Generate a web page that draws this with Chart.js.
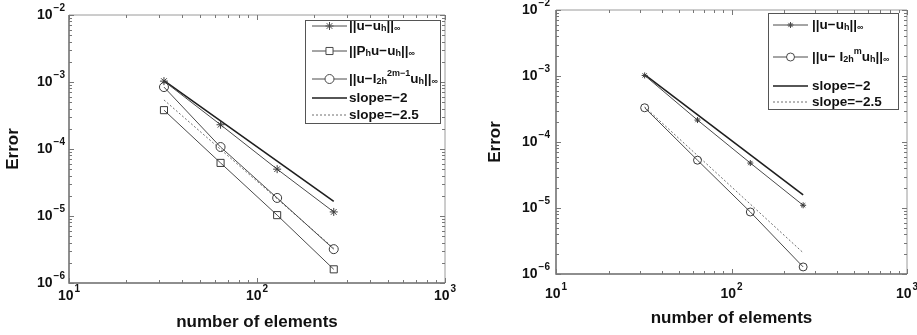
<!DOCTYPE html>
<html>
<head>
<meta charset="utf-8">
<script src="https://cdn.jsdelivr.net/npm/chart.js@4.4.1/dist/chart.umd.min.js"></script>
<style>
  body { margin: 0; background: #fff; width: 917px; height: 335px; overflow: hidden; position: relative; }
  canvas { position: absolute; top: 0; }
  #left { left: 0; }
  #right { left: 458px; }
</style>
</head>
<body>
<canvas id="left" width="458" height="335"></canvas>
<canvas id="right" width="459" height="335"></canvas>
<script>
// number of elements (x) for every series
const elements = [32, 64, 128, 256];
const slopeX = [32, 256];

// left panel
const errU = [1.03e-3, 2.3e-4, 5.0e-5, 1.15e-5];
const errPh = [3.8e-4, 6.2e-5, 1.03e-5, 1.6e-6];
const errI = [8.4e-4, 1.07e-4, 1.86e-5, 3.2e-6];
const slope2L = [1.05e-3, 1.65e-5];
const slope25L = [5.4e-4, 3.3e-6];

// right panel
const errUR = [1.02e-3, 2.15e-4, 4.8e-5, 1.1e-5];
const errIR = [3.3e-4, 5.3e-5, 8.7e-6, 1.28e-6];
const slope2R = [1.05e-3, 1.58e-5];
const slope25R = [3.4e-4, 2.1e-6];

// axis decades (tick labels are 10^e)
const xDecades = [1, 2, 3];
const yDecades = [-6, -5, -4, -3, -2];

const FONT = '"Liberation Sans", Arial, sans-serif';

function decadeTicks(decades) {
  const out = [];
  for (let i = 0; i < decades.length - 1; i++) {
    for (let k = 1; k <= 9; k++) out.push({ value: k * Math.pow(10, decades[i]), major: k === 1, exp: decades[i] });
  }
  const last = decades[decades.length - 1];
  out.push({ value: Math.pow(10, last), major: true, exp: last });
  return out;
}

function series(xs, ys) {
  return xs.map((x, i) => ({ x: x, y: ys[i] }));
}

// draws "10" with a raised exponent
function powLabel(ctx, e, x, y, align) {
  const ex = String(e).replace('-', '\u2212');
  ctx.font = 'bold 14px ' + FONT;
  const wb = ctx.measureText('10').width;
  ctx.font = 'bold 10px ' + FONT;
  const we = ctx.measureText(ex).width;
  const w = wb + we + 1;
  const x0 = align === 'right' ? x - w : x - w / 2;
  ctx.textAlign = 'left';
  ctx.textBaseline = 'middle';
  ctx.fillStyle = '#111';
  ctx.font = 'bold 14px ' + FONT;
  ctx.fillText('10', x0, y);
  ctx.font = 'bold 10px ' + FONT;
  ctx.fillText(ex, x0 + wb + 1, y - 7);
}

// MATLAB style box with inward ticks
const frame = {
  id: 'frame',
  afterDatasetsDraw(chart, args, opts) {
    const ctx = chart.ctx;
    const a = chart.chartArea;
    const xs = chart.scales.x, ys = chart.scales.y;
    ctx.save();
    ctx.strokeStyle = '#9a9a9a';
    ctx.lineWidth = 1;
    ctx.beginPath();
    ctx.moveTo(a.left, a.top); ctx.lineTo(a.right, a.top); ctx.lineTo(a.right, a.bottom);
    ctx.stroke();
    ctx.strokeStyle = '#6a6a6a';
    ctx.lineWidth = 1.5;
    ctx.beginPath();
    ctx.moveTo(a.left, a.top); ctx.lineTo(a.left, a.bottom); ctx.lineTo(a.right, a.bottom);
    ctx.stroke();

    ctx.strokeStyle = '#777';
    ctx.lineWidth = 1;
    ctx.beginPath();
    xs.ticks.forEach(t => {
      const px = Math.round(xs.getPixelForValue(t.value)) + 0.5;
      const len = t.major ? 5 : 3;
      ctx.moveTo(px, a.bottom); ctx.lineTo(px, a.bottom - len);
      ctx.moveTo(px, a.top); ctx.lineTo(px, a.top + len);
    });
    ys.ticks.forEach(t => {
      const py = Math.round(ys.getPixelForValue(t.value)) + 0.5;
      const len = t.major ? 5 : 3;
      ctx.moveTo(a.left, py); ctx.lineTo(a.left + len, py);
      ctx.moveTo(a.right, py); ctx.lineTo(a.right - len, py);
    });
    ctx.stroke();

    xs.ticks.filter(t => t.major).forEach(t => {
      powLabel(ctx, t.exp, xs.getPixelForValue(t.value), a.bottom + opts.xGap, 'center');
    });
    ys.ticks.filter(t => t.major).forEach(t => {
      powLabel(ctx, t.exp, a.left - opts.yGap, ys.getPixelForValue(t.value), 'right');
    });
    ctx.restore();
  }
};

function drawRuns(ctx, runs, x, y) {
  ctx.textAlign = 'left';
  ctx.textBaseline = 'middle';
  ctx.fillStyle = '#111';
  runs.forEach(r => {
    const small = r[1] === 'sub' || r[1] === 'sup';
    ctx.font = 'bold ' + (small ? 9 : 13.5) + 'px ' + FONT;
    const dy = r[1] === 'sub' ? 3 : r[1] === 'sup' ? -5 : 0;
    ctx.fillText(r[0], x, y + dy);
    x += ctx.measureText(r[0]).width;
  });
}

// legend drawn inside the plot, with sub/superscripts
const mlegend = {
  id: 'mlegend',
  afterDraw(chart, args, opts) {
    const ctx = chart.ctx;
    const a = chart.chartArea;
    const bx = a.right - opts.dx, by = a.top + opts.dy;
    ctx.save();
    ctx.fillStyle = '#fff';
    ctx.fillRect(bx, by, opts.w, opts.h);
    ctx.strokeStyle = '#555';
    ctx.lineWidth = 1;
    ctx.strokeRect(bx + 0.5, by + 0.5, opts.w, opts.h);
    opts.rows.forEach(row => {
      const d = chart.data.datasets[row.ds];
      const y = by + row.y;
      ctx.save();
      ctx.strokeStyle = d.borderColor;
      ctx.lineWidth = d.borderWidth;
      ctx.setLineDash(d.borderDash || []);
      ctx.beginPath();
      ctx.moveTo(bx + opts.l0, y); ctx.lineTo(bx + opts.l1, y);
      ctx.stroke();
      ctx.restore();
      if (d.pointRadius > 0) {
        ctx.save();
        ctx.strokeStyle = d.borderColor;
        ctx.fillStyle = '#fff';
        ctx.lineWidth = 1;
        Chart.helpers.drawPoint(ctx, { pointStyle: d.pointStyle, radius: d.pointRadius, rotation: 0, borderWidth: 1 }, (bx + opts.l0 + bx + opts.l1) / 2, y);
        ctx.restore();
      }
      drawRuns(ctx, row.runs, bx + opts.tx, y);
    });
    ctx.restore();
  }
};

function markerSet(label, ys, style, r) {
  return {
    label: label, data: series(elements, ys),
    borderColor: '#4a4a4a', borderWidth: 1, tension: 0, fill: false,
    pointStyle: style, pointRadius: r, pointBorderWidth: 1,
    pointBorderColor: '#3a3a3a', pointBackgroundColor: 'rgba(255,255,255,0)'
  };
}
function slopeSet(label, ys, dotted) {
  return {
    label: label, data: series(slopeX, ys), tension: 0, fill: false, pointRadius: 0,
    borderColor: dotted ? '#6e6e6e' : '#1e1e1e', borderWidth: dotted ? 1 : 1.6,
    borderDash: dotted ? [2, 2] : []
  };
}

function makeChart(id, datasets, cfg) {
  return new Chart(document.getElementById(id), {
    type: 'line',
    data: { datasets: datasets },
    options: {
      responsive: false,
      animation: false,
      layout: { padding: cfg.pad },
      plugins: {
        legend: { display: false },
        tooltip: { enabled: false },
        frame: { xGap: cfg.xGap, yGap: cfg.yGap },
        mlegend: cfg.legend
      },
      scales: {
        x: {
          type: 'logarithmic', min: 10, max: 1000,
          grid: { display: false, drawTicks: false, tickLength: 0 },
          border: { display: false },
          ticks: { display: false },
          afterBuildTicks: s => { s.ticks = decadeTicks(xDecades); },
          afterFit: s => { s.height = cfg.xh; },
          title: { display: true, text: 'number of elements', color: '#111',
                   font: { family: FONT, size: 17, weight: 'bold' }, padding: { top: 0, bottom: cfg.xtb } }
        },
        y: {
          type: 'logarithmic', min: 1e-6, max: 1e-2,
          grid: { display: false, drawTicks: false, tickLength: 0 },
          border: { display: false },
          ticks: { display: false },
          afterBuildTicks: s => { s.ticks = decadeTicks(yDecades); },
          afterFit: s => { s.width = cfg.yw; },
          title: { display: true, text: 'Error', color: '#111',
                   font: { family: FONT, size: 17, weight: 'bold' }, padding: { top: cfg.ytt, bottom: 0 } }
        }
      }
    },
    plugins: [frame, mlegend]
  });
}

makeChart('left', [
  markerSet('||u-uh||', errU, 'star', 4),
  markerSet('||Phu-uh||', errPh, 'rect', 5),
  markerSet('||u-I2h uh||', errI, 'circle', 4.5),
  slopeSet('slope=-2', slope2L, false),
  slopeSet('slope=-2.5', slope25L, true)
], {
  pad: { left: 0, top: 15, right: 13, bottom: 0 },
  xh: 52, yw: 69, xtb: 2, ytt: 3, xGap: 13, yGap: 4,
  legend: {
    dx: 140, dy: 5, w: 135, h: 103, l0: 7, l1: 42, tx: 44,
    rows: [
      { ds: 0, y: 6, runs: [['||u\u2212u'], ['h', 'sub'], ['||'], ['\u221e', 'sub']] },
      { ds: 1, y: 31, runs: [['||P'], ['h', 'sub'], ['u\u2212u'], ['h', 'sub'], ['||'], ['\u221e', 'sub']] },
      { ds: 2, y: 59, runs: [['||u\u2212I'], ['2h', 'sub'], ['2m\u22121', 'sup'], ['u'], ['h', 'sub'], ['||'], ['\u221e', 'sub']] },
      { ds: 3, y: 78, runs: [['slope=\u22122']] },
      { ds: 4, y: 95, runs: [['slope=\u22122.5']] }
    ]
  }
});

makeChart('right', [
  markerSet('||u-uh||', errUR, 'star', 3),
  markerSet('||u-I2h uh||', errIR, 'circle', 4),
  slopeSet('slope=-2', slope2R, false),
  slopeSet('slope=-2.5', slope25R, true)
], {
  pad: { left: 0, top: 10, right: 10, bottom: 0 },
  xh: 61, yw: 98, xtb: 6, ytt: 27, xGap: 20, yGap: 6,
  legend: {
    dx: 139, dy: 3, w: 130, h: 96, l0: 5, l1: 40, tx: 44,
    rows: [
      { ds: 0, y: 12, runs: [['||u\u2212u'], ['h', 'sub'], ['||'], ['\u221e', 'sub']] },
      { ds: 1, y: 44, runs: [['||u\u2212 I'], ['2h', 'sub'], ['m', 'sup'], ['u'], ['h', 'sub'], ['||'], ['\u221e', 'sub']] },
      { ds: 2, y: 73, runs: [['slope=\u22122']] },
      { ds: 3, y: 89, runs: [['slope=\u22122.5']] }
    ]
  }
});
</script>
</body>
</html>
